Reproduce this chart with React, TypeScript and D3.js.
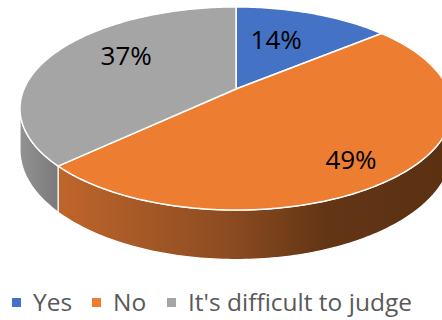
import React from "react";
import * as d3 from "d3";

const categories = ["Yes", "No", "It's difficult to judge"];
const values = [14, 49, 37];
const valueLabels = ["14%", "49%", "37%"];
const colors = ["#4472C4", "#ED7D31", "#A5A5A5"];

// label placement in the pie plane: [radius fraction, angle offset in degrees]
const labelPlacement: [number, number][] = [
  [0.59, -4.4],
  [0.795, 4.6],
  [0.66, 9.6],
];

export default function App() {
  const W = 442,
    H = 320;
  const cx = 236,
    cy = 89,
    A = 212,
    B = 97.8,
    k = 0.192,
    D = 40;

  const proj = (t: number, r = 1, h = 0): [number, number] => {
    const u = r * Math.sin(t);
    const v = -r * Math.cos(t);
    const s = 1 / (1 - k * v);
    return [cx + A * u * s, cy + B * v * s + h * D * s];
  };

  const arcs = d3
    .pie<number>()
    .sort(null)
    .value((d) => d)(values);

  const sample = (a: number, b: number): number[] => {
    const n = Math.max(2, Math.ceil(((b - a) * 180) / Math.PI));
    return d3.range(n + 1).map((i) => a + ((b - a) * i) / n);
  };

  const line = d3.line<[number, number]>();

  const topPath = (a: number, b: number) => {
    const pts: [number, number][] = [proj(0, 0), ...sample(a, b).map((t) => proj(t))];
    return line(pts) + "Z";
  };

  const visA = Math.acos(-k);
  const visB = 2 * Math.PI - visA;

  const sidePath = (a: number, b: number) => {
    const s = Math.max(a, visA);
    const e = Math.min(b, visB);
    if (e <= s) return null;
    const ts = sample(s, e);
    const pts: [number, number][] = [
      ...ts.map((t) => proj(t, 1, 0)),
      ...ts.slice().reverse().map((t) => proj(t, 1, 1)),
    ];
    return line(pts) + "Z";
  };

  const sideFills = ["url(#sideBlue)", "url(#sideOrange)", "url(#sideGray)"];

  const legendX = [12, 92, 167];

  return (
    <div style={{ position: "absolute", left: 0, top: 0 }}>
      <svg width={W} height={H} style={{ display: "block" }}>
        <defs>
          <linearGradient id="sideOrange" gradientUnits="userSpaceOnUse" x1={55} x2={445} y1={0} y2={0}>
            <stop offset="0" stopColor="#C0662C" />
            <stop offset="0.45" stopColor="#8B4B20" />
            <stop offset="0.7" stopColor="#623515" />
            <stop offset="1" stopColor="#5B3112" />
          </linearGradient>
          <linearGradient id="sideGray" gradientUnits="userSpaceOnUse" x1={20} x2={58} y1={0} y2={0}>
            <stop offset="0" stopColor="#929292" />
            <stop offset="1" stopColor="#7A7A7A" />
          </linearGradient>
          <linearGradient id="sideBlue" gradientUnits="userSpaceOnUse" x1={20} x2={445} y1={0} y2={0}>
            <stop offset="0" stopColor="#345A9C" />
            <stop offset="1" stopColor="#1F3A66" />
          </linearGradient>
        </defs>
        <rect width={W} height={H} fill="#ffffff" />
        <g>
          {arcs.map((d, i) => {
            const p = sidePath(d.startAngle, d.endAngle);
            return p ? (
              <path key={"s" + i} d={p} fill={sideFills[i]} stroke="#ffffff" strokeWidth={1.2} strokeLinejoin="round" />
            ) : null;
          })}
        </g>
        <g>
          {arcs.map((d, i) => (
            <path
              key={"t" + i}
              d={topPath(d.startAngle, d.endAngle)}
              fill={colors[i]}
              stroke="#ffffff"
              strokeWidth={1.5}
              strokeLinejoin="round"
            />
          ))}
        </g>
        <g fontFamily="'Open Sans', sans-serif" fontSize={26} fill="#000000" textAnchor="middle">
          {arcs.map((d, i) => {
            const [r, off] = labelPlacement[i];
            const mid = (d.startAngle + d.endAngle) / 2 + (off * Math.PI) / 180;
            const [x, y] = proj(mid, r);
            return (
              <text key={"l" + i} x={x} y={y + 9}>
                {valueLabels[i]}
              </text>
            );
          })}
        </g>
        <g fontFamily="'Open Sans', sans-serif" fontSize={24.5} fill="#595959">
          {categories.map((c, i) => (
            <g key={"lg" + i}>
              <rect x={legendX[i]} y={298} width={9} height={9} fill={colors[i]} />
              <text x={legendX[i] + 21} y={311}>
                {c}
              </text>
            </g>
          ))}
        </g>
      </svg>
    </div>
  );
}
